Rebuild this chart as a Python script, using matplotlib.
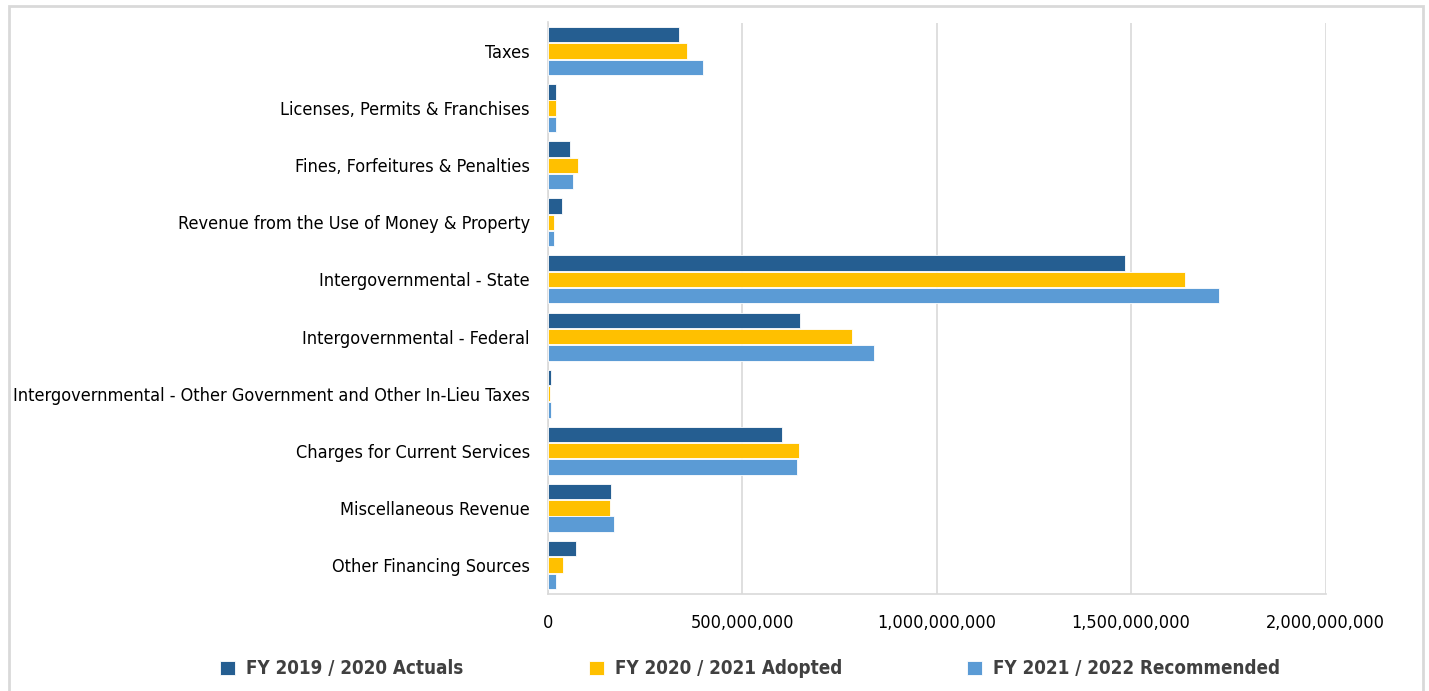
import numpy as np
import matplotlib.pyplot as plt
from matplotlib.patches import Rectangle
from matplotlib.ticker import FuncFormatter

plt.rcParams['font.family'] = ['DejaVu Sans']
plt.rcParams['font.stretch'] = 'condensed'

# Revenue by source (dollars)
categories = [
    'Taxes',
    'Licenses, Permits & Franchises',
    'Fines, Forfeitures & Penalties',
    'Revenue from the Use of Money & Property',
    'Intergovernmental - State',
    'Intergovernmental - Federal',
    'Intergovernmental - Other Government and Other In-Lieu Taxes',
    'Charges for Current Services',
    'Miscellaneous Revenue',
    'Other Financing Sources',
]
fy2020_actuals = [337e6, 20e6, 57e6, 36e6, 1484e6, 648e6, 7e6, 601e6, 163e6, 71e6]
fy2021_adopted = [358e6, 21e6, 77e6, 15e6, 1638e6, 781e6, 5e6, 645e6, 159e6, 38e6]
fy2022_recommended = [398e6, 21e6, 64e6, 16e6, 1727e6, 839e6, 7e6, 640e6, 171e6, 21e6]

series = [
    ('FY 2019 / 2020 Actuals', fy2020_actuals, '#255E91'),
    ('FY 2020 / 2021 Adopted', fy2021_adopted, '#FFC000'),
    ('FY 2021 / 2022 Recommended', fy2022_recommended, '#5B9BD5'),
]
legend_x = [220, 589, 967]

fig = plt.figure(figsize=(14.29, 6.91), dpi=100)
ax = fig.add_axes([548 / 1429, 1 - 593.5 / 691, (1325.5 - 548) / 1429, (593.5 - 22.5) / 691])

# outer chart frame
fig.patches.append(Rectangle((9 / 1429, -0.05), (1423 - 9) / 1429, 1.05 - 6 / 691,
                             transform=fig.transFigure, fill=False,
                             edgecolor='#d9d9d9', linewidth=2, zorder=0))

y = np.arange(len(categories))
h = 0.27
handles = []
for i, (label, vals, color) in enumerate(series):
    b = ax.barh(y + (i - 1) * 0.285, vals, height=h, color=color,
                edgecolor='white', linewidth=0.6, label=label, zorder=3)
    handles.append(b)

ax.set_xlim(0, 2e9)
ax.set_ylim(len(categories) - 0.5, -0.5)
ax.set_xticks(np.arange(0, 2.01e9, 5e8))
ax.xaxis.set_major_formatter(FuncFormatter(lambda v, p: f'{v:,.0f}'))
ax.set_yticks(y)
ax.set_yticklabels(categories)
ax.grid(axis='x', color='#d9d9d9', linewidth=1.2, zorder=0)
ax.tick_params(axis='both', length=0, labelsize=13, colors='black')
ax.tick_params(axis='x', pad=15)
ax.tick_params(axis='y', pad=13)
for s in ['top', 'right']:
    ax.spines[s].set_visible(False)
for s in ['left', 'bottom']:
    ax.spines[s].set_color('#d9d9d9')
    ax.spines[s].set_linewidth(1.2)

# one legend entry per column along the bottom
for hnd, (label, _, _), lx in zip(handles, series, legend_x):
    leg = fig.legend(handles=[hnd], labels=[label], loc='center left',
                     bbox_to_anchor=(lx / 1429, 1 - 669 / 691), frameon=False,
                     handlelength=0.8, handleheight=0.8, handletextpad=0.6,
                     borderpad=0, borderaxespad=0,
                     prop={'size': 13.5, 'weight': 'bold', 'stretch': 'condensed'})
    for t in leg.get_texts():
        t.set_color('#404040')

fig.savefig('out.png', dpi=100, facecolor='white')
